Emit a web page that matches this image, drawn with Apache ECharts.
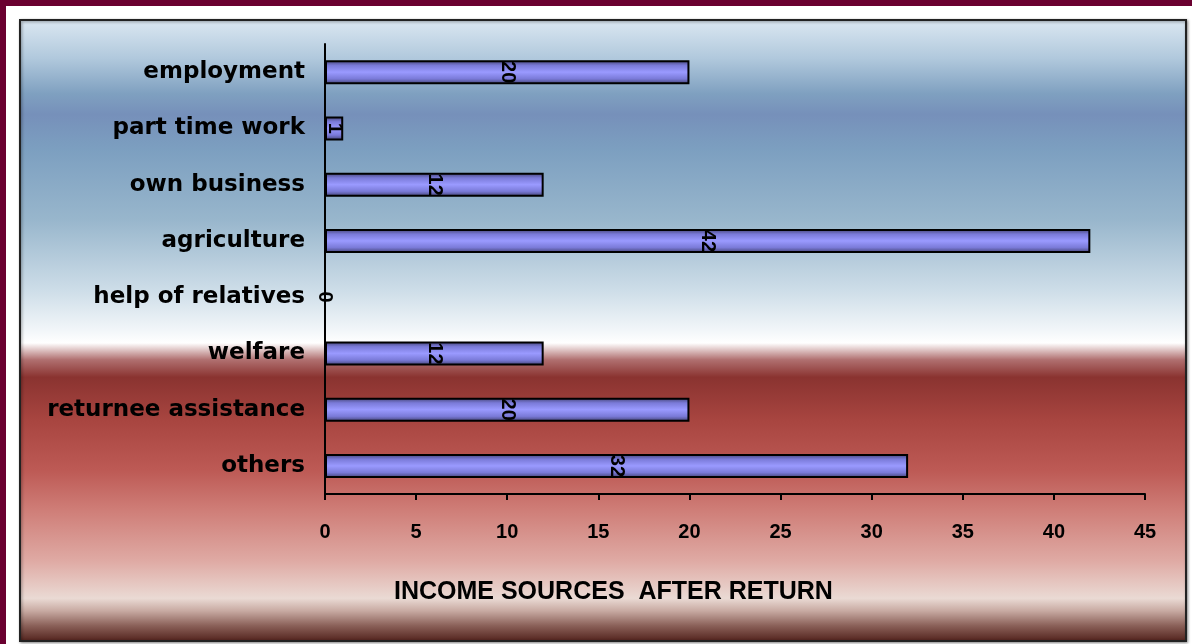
<!DOCTYPE html>
<html>
<head>
<meta charset="utf-8">
<script src="https://cdn.jsdelivr.net/npm/echarts@6/dist/echarts.min.js"></script>
<style>
  html, body { margin: 0; padding: 0; background: #ffffff; }
  #chart { width: 1192px; height: 644px; }
</style>
</head>
<body>
<div id="chart"></div>
<script>
// Income sources reported after return
const categories = ['employment', 'part time work', 'own business', 'agriculture',
  'help of relatives', 'welfare', 'returnee assistance', 'others'];
const counts = [20, 1, 12, 42, 0, 12, 20, 32];
const xTicks = { min: 0, max: 45, interval: 5 };
const chartTitle = 'INCOME SOURCES  AFTER RETURN';

const narrow = '"Liberation Sans Narrow", "Arial Narrow", "Liberation Sans", Arial, sans-serif';
const wide = '"DejaVu Sans", "Liberation Sans", Arial, sans-serif';

const chart = echarts.init(document.getElementById('chart'), null, { renderer: 'canvas' });

const bgGradient = new echarts.graphic.LinearGradient(0, 0, 0, 1, [
  { offset: 0.00, color: '#dce8f2' },
  { offset: 0.064, color: '#b0c8dc' },
  { offset: 0.12, color: '#7fa0c0' },
  { offset: 0.153, color: '#7690ba' },
  { offset: 0.209, color: '#7c9fc0' },
  { offset: 0.322, color: '#98b6cc' },
  { offset: 0.435, color: '#cddde8' },
  { offset: 0.50, color: '#f2f6f9' },
  { offset: 0.52, color: '#ffffff' },
  { offset: 0.547, color: '#b07070' },
  { offset: 0.575, color: '#8a3330' },
  { offset: 0.644, color: '#a84540' },
  { offset: 0.725, color: '#bd5a55' },
  { offset: 0.789, color: '#cf7e78' },
  { offset: 0.87, color: '#dfaaa4' },
  { offset: 0.93, color: '#eadad4' },
  { offset: 0.95, color: '#c8aaa2' },
  { offset: 0.974, color: '#8a6058' },
  { offset: 1.00, color: '#50201a' }
]);

const barGradient = new echarts.graphic.LinearGradient(0, 0, 0, 1, [
  { offset: 0.00, color: '#40406e' },
  { offset: 0.22, color: '#7a7ad8' },
  { offset: 0.50, color: '#9a9aff' },
  { offset: 0.78, color: '#7a7ad8' },
  { offset: 1.00, color: '#40406e' }
]);

chart.setOption({
  animation: false,
  graphic: [
    // maroon page frame
    { type: 'rect', z: -10, shape: { x: 0, y: 0, width: 1192, height: 6 }, style: { fill: '#6a0030' } },
    { type: 'rect', z: -10, shape: { x: 0, y: 0, width: 6, height: 644 }, style: { fill: '#6a0030' } },
    // chart area backdrop
    { type: 'rect', z: -9, shape: { x: 20, y: 20, width: 1166, height: 621 },
      style: { fill: bgGradient, stroke: '#222222', lineWidth: 2, shadowColor: 'rgba(0,0,0,0.4)', shadowBlur: 3, shadowOffsetX: 1, shadowOffsetY: 1 } }
  ],
  title: {
    text: chartTitle,
    left: 389,
    top: 575,
    textStyle: { fontFamily: narrow, fontWeight: 'bold', fontSize: 25, color: '#000' }
  },
  grid: { left: 325, right: 47, top: 44, bottom: 150, containLabel: false },
  xAxis: {
    type: 'value',
    min: xTicks.min, max: xTicks.max, interval: xTicks.interval,
    axisLine: { show: true, lineStyle: { color: '#000', width: 2 } },
    axisTick: { show: true, length: 6, lineStyle: { color: '#000', width: 2 } },
    splitLine: { show: false },
    axisLabel: { margin: 28, fontFamily: narrow, fontWeight: 'bold', fontSize: 20, color: '#000' }
  },
  yAxis: {
    type: 'category',
    data: categories,
    inverse: true,
    axisLine: { show: true, lineStyle: { color: '#000', width: 2 } },
    axisTick: { show: false },
    axisLabel: { margin: 20, fontFamily: wide, fontWeight: 'bold', fontSize: 23, color: '#000' }
  },
  series: [{
    type: 'bar',
    data: counts,
    barWidth: 24,
    itemStyle: { color: barGradient, borderColor: '#000', borderWidth: 2 },
    label: {
      show: true,
      position: 'inside',
      rotate: -90,
      fontFamily: narrow,
      fontWeight: 'bold',
      fontSize: 20,
      color: '#000'
    }
  }]
});
</script>
</body>
</html>
